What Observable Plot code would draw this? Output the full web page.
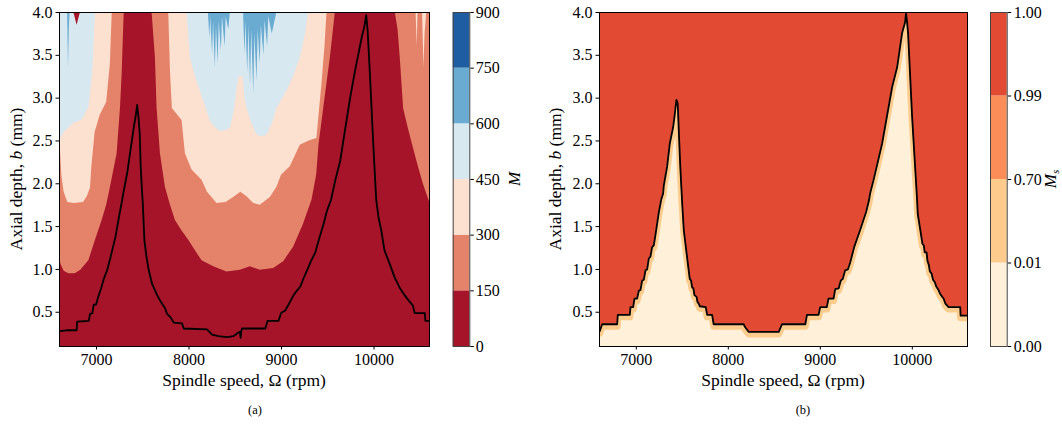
<!DOCTYPE html>
<html><head><meta charset="utf-8">
<script src="https://cdn.jsdelivr.net/npm/d3@7"></script>
<script src="https://cdn.jsdelivr.net/npm/@observablehq/plot@0.6"></script>
<style>
body{margin:0;background:#fff;}
#wrap{position:relative;width:1062px;height:430px;overflow:hidden;font-family:"Liberation Serif",serif;}
#wrap svg{position:absolute;overflow:visible;}
#wrap svg, #wrap svg text, #wrap svg tspan{font-family:"Liberation Serif",serif !important;}
</style></head><body><div id="wrap"></div>
<script>
// ---------- axes ----------
const rpmDomain = [6600, 10600];
const depthDomain = [0.1, 4.0];
const rpmTicks = [7000, 8000, 9000, 10000];
const depthTicks = [0.5, 1.0, 1.5, 2.0, 2.5, 3.0, 3.5, 4.0];

// ---------- panel (a): contour band edges [rpm, depth]; band fills from edge up to 4.0 ----------
const mLevels = [0, 150, 300, 450, 600, 750, 900];
const mColors = ["#a51429", "#e48369", "#fce0d0", "#d7e8f1", "#69abd1", "#1e5da1"];

const edge150 = [[6600,1.12],[6620,1.05],[6650,0.98],[6700,0.95],[6770,0.95],[6830,0.99],[6917,1.10],[6989,1.34],[7061,1.57],[7110,1.75],[7151,1.96],[7223,2.35],[7259,2.88],[7277,3.27],[7290,3.7],[7300,4.0],
 [7601,4.0],[7637,3.47],[7655,2.88],[7691,2.35],[7745,1.96],[7800,1.75],[7853,1.57],[7925,1.45],[7997,1.34],[8080,1.2],[8141,1.10],[8267,1.03],[8411,0.97],[8555,0.99],[8663,1.03],[8771,0.99],[8915,1.01],[9023,1.09],[9131,1.26],[9239,1.53],[9330,1.81],[9380,2.1],[9405,2.45],[9456,2.88],[9528,3.47],[9582,4.0],
 [10230,4.0],[10260,3.8],[10284,3.47],[10320,2.88],[10370,2.65],[10428,2.41],[10480,2.2],[10536,1.99],[10600,1.79]];

const edge300Left = [[6600,2.6],[6625,2.1],[6650,1.9],[6690,1.78],[6760,1.77],[6860,1.78],[6900,1.85],[6935,1.95],[6950,2.2],[6985,2.6],[7040,2.8],[7110,2.95],[7150,3.4],[7170,4.0]];
const edge300Mid = [[7781,4.0],[7800,3.3],[7820,2.88],[7925,2.74],[7961,2.35],[8033,2.16],[8141,2.04],[8200,1.9],[8303,1.77],[8400,1.78],[8483,1.84],[8560,1.9],[8627,1.85],[8700,1.77],[8771,1.75],[8879,1.84],[8951,1.96],[9000,2.1],[9095,2.2],[9203,2.45],[9300,2.5],[9383,2.53],[9440,3.2],[9470,3.6],[9492,4.0]];
const edge300Right = [[10455,4.0],[10468,3.6],[10476,4.0],[10525,4.0],[10540,3.35],[10552,3.75],[10570,4.0]];

const edge450Left = [[6600,2.5],[6650,2.6],[6750,2.7],[6850,2.75],[6920,2.9],[6960,3.3],[6980,3.8],[6990,4.0]];
const edge450Mid = [[7979,4.0],[8015,3.47],[8070,3.25],[8123,3.08],[8180,2.9],[8231,2.73],[8290,2.65],[8339,2.61],[8400,2.62],[8447,2.65],[8490,2.85],[8520,3.1],[8540,3.25],[8585,3.25],[8605,3.0],[8627,2.88],[8680,2.7],[8735,2.57],[8790,2.55],[8843,2.57],[8900,2.7],[8951,2.88],[9059,3.08],[9130,3.25],[9203,3.47],[9260,3.75],[9293,4.0]];

const edge600Left = [[6688,4.0],[6697,3.35],[6706,3.8],[6714,4.0]];
const edge600Mid1 = [[8210,4.0],[8225,3.7],[8235,3.95],[8255,3.5],[8265,3.9],[8285,3.35],[8297,3.85],[8315,3.4],[8327,3.9],[8350,3.55],[8362,3.95],[8390,3.6],[8402,3.95],[8430,3.8],[8447,4.0]];
const edge600Mid2 = [[8590,4.0],[8605,3.5],[8615,3.9],[8635,3.3],[8648,3.85],[8665,3.15],[8678,3.8],[8700,3.05],[8712,3.75],[8735,3.2],[8748,3.8],[8770,3.4],[8782,3.85],[8810,3.5],[8822,3.9],[8850,3.6],[8862,3.95],[8900,3.75],[8950,4.0]];
const spotLow = [[6755,4.0],[6790,3.85],[6827,4.0]];

// stability boundary, panel (a)
const lobesA = [[6603,0.28],[6700,0.29],[6785,0.29],[6791,0.39],[6917,0.40],[6930,0.48],[6955,0.49],[6970,0.59],[6995,0.59],[7025,0.70],[7050,0.78],[7079,0.89],[7115,0.99],[7151,1.14],[7205,1.38],[7251,1.66],[7277,1.81],[7295,1.92],[7331,2.12],[7367,2.39],[7403,2.66],[7425,2.80],[7439,2.92],[7452,2.80],[7467,2.59],[7478,2.2],[7490,1.95],[7500,1.78],[7518,1.34],[7540,1.15],[7565,0.99],[7601,0.83],[7630,0.76],[7655,0.70],[7680,0.65],[7709,0.60],[7740,0.55],[7763,0.48],[7800,0.44],[7835,0.38],[7925,0.37],[7943,0.31],[8195,0.30],[8249,0.24],[8320,0.22],[8411,0.21],[8480,0.22],[8530,0.26],[8550,0.27],[8558,0.20],[8565,0.28],[8574,0.31],[8825,0.31],[8850,0.40],[8969,0.40],[8995,0.49],[9040,0.52],[9077,0.59],[9131,0.70],[9165,0.75],[9203,0.80],[9240,0.90],[9276,0.99],[9320,1.10],[9366,1.20],[9410,1.37],[9455,1.53],[9490,1.68],[9535,1.81],[9581,2.04],[9635,2.27],[9690,2.65],[9743,3.01],[9797,3.33],[9869,3.72],[9895,3.83],[9916,3.97],[9931,3.79],[9955,3.30],[9978,2.78],[10000,2.30],[10024,1.81],[10050,1.60],[10078,1.46],[10114,1.22],[10168,1.07],[10222,0.91],[10276,0.79],[10330,0.70],[10380,0.63],[10420,0.58],[10440,0.49],[10550,0.49],[10555,0.40],[10600,0.40]];

// ---------- panel (b) ----------
const msLevels = [0.00, 0.01, 0.70, 0.99, 1.00];
const msColors = ["#fef0d9", "#fdcb8b", "#fb8d59", "#e34a33"];
const lobesB = [[6603,0.28],[6629,0.36],[6792,0.36],[6799,0.47],[6929,0.47],[6937,0.56],[6966,0.56],[6980,0.66],[7009,0.66],[7027,0.75],[7045,0.76],[7064,0.87],[7082,0.88],[7100,0.99],[7118,1.0],[7136,1.13],[7154,1.15],[7172,1.26],[7190,1.28],[7208,1.40],[7244,1.66],[7270,1.81],[7292,1.89],[7299,1.98],[7335,2.20],[7364,2.47],[7400,2.66],[7415,2.78],[7436,2.98],[7450,2.94],[7463,2.59],[7478,2.20],[7490,1.95],[7500,1.75],[7516,1.46],[7552,1.14],[7568,1.0],[7581,0.89],[7595,0.87],[7607,0.79],[7620,0.78],[7632,0.70],[7655,0.68],[7665,0.62],[7679,0.60],[7690,0.57],[7755,0.56],[7770,0.47],[7824,0.47],[7841,0.36],[8167,0.36],[8180,0.33],[8222,0.27],[8548,0.27],[8584,0.36],[8837,0.36],[8855,0.47],[8981,0.47],[8999,0.56],[9071,0.56],[9089,0.66],[9144,0.66],[9162,0.77],[9200,0.78],[9223,0.87],[9245,0.89],[9270,0.99],[9300,1.0],[9325,1.08],[9368,1.26],[9433,1.46],[9498,1.67],[9530,1.81],[9542,1.89],[9578,2.04],[9672,2.47],[9781,3.13],[9835,3.36],[9889,3.76],[9920,3.88],[9932,3.99],[9942,3.9],[9954,3.76],[9998,2.78],[10052,1.81],[10059,1.65],[10110,1.30],[10125,1.28],[10135,1.20],[10155,1.20],[10165,1.10],[10180,1.05],[10190,0.98],[10210,0.95],[10225,0.88],[10245,0.85],[10260,0.80],[10285,0.76],[10300,0.72],[10325,0.68],[10340,0.66],[10360,0.60],[10394,0.56],[10521,0.56],[10525,0.46],[10600,0.46]];

// ---------- rendering ----------
const FONT = '"Liberation Serif", serif';
const wrap = document.getElementById("wrap");
const X = d => d[0], Y = d => d[1];
const TOP = depthDomain[1], BOT = depthDomain[0];

function put(svg, left, top) {
  svg.style.left = left + "px";
  svg.style.top = top + "px";
  svg.setAttribute("font-family", FONT);
  wrap.appendChild(svg);
}
const style = {fontFamily: FONT, fontSize: "16px", background: "transparent", overflow: "visible", color: "black"};

function panel(marks, mr) {
  return Plot.plot({
    width: 440, height: 380, marginLeft: 59, marginRight: mr, marginTop: 12, marginBottom: 34,
    x: {domain: rpmDomain, ticks: rpmTicks, tickFormat: d => String(d), tickSize: 3.5, tickPadding: 4, label: null},
    y: {domain: depthDomain, ticks: depthTicks, tickFormat: d3.format(".1f"), tickSize: 3.5, tickPadding: 3.5, label: null},
    style, marks
  });
}
const band = (data, fill) => Plot.areaY(data, {x: X, y1: Y, y2: TOP, fill, clip: true});

const svgA = panel([
  Plot.frame({fill: mColors[0]}),
  band(edge150, mColors[1]),
  band(edge300Left, mColors[2]), band(edge300Mid, mColors[2]), band(edge300Right, mColors[2]),
  band(edge450Left, mColors[3]), band(edge450Mid, mColors[3]),
  band(edge600Left, mColors[4]), band(edge600Mid1, mColors[4]), band(edge600Mid2, mColors[4]),
  band(spotLow, mColors[0]),
  Plot.line(lobesA, {x: X, y: Y, stroke: "black", strokeWidth: 1.8, clip: true}),
  Plot.frame({stroke: "black", strokeWidth: 1})
], 11);
put(svgA, 0, 0);

const svgB = panel([
  Plot.areaY(lobesB, {x: X, y1: BOT, y2: Y, fill: msColors[0], clip: true}),
  Plot.line(lobesB, {x: X, y: Y, stroke: msColors[1], strokeWidth: 7, dy: 2, strokeLinejoin: "round", clip: true}),
  Plot.areaY(lobesB, {x: X, y1: Y, y2: TOP, fill: msColors[3], clip: true}),
  Plot.line(lobesB, {x: X, y: Y, stroke: "black", strokeWidth: 1.8, clip: true}),
  Plot.frame({stroke: "black", strokeWidth: 1})
], 13);
put(svgB, 540, 0);

// colorbar (a)
const cbA = mColors.map((c, i) => ({lo: mLevels[i], hi: mLevels[i + 1], c}));
const svgCA = Plot.plot({
  width: 100, height: 380, marginLeft: 12.7, marginRight: 70.7, marginTop: 12, marginBottom: 34,
  x: {domain: [0, 1], axis: null},
  y: {domain: [mLevels[0], mLevels[mLevels.length - 1]], ticks: mLevels, tickFormat: d => String(d), axis: "right", tickSize: 3.5, tickPadding: 2.5, label: null},
  color: {type: "identity"},
  style,
  marks: [
    Plot.rect(cbA, {x1: 0, x2: 1, y1: "lo", y2: "hi", fill: "c"}),
    Plot.frame({stroke: "#444", strokeWidth: 1})
  ]
});
put(svgCA, 440, 0);

// colorbar (b): evenly spaced bands for uneven levels
const cbB = msColors.map((c, i) => ({lo: i, hi: i + 1, c}));
const svgCB = Plot.plot({
  width: 82, height: 380, marginLeft: 10, marginRight: 55.3, marginTop: 12, marginBottom: 34,
  x: {domain: [0, 1], axis: null},
  y: {domain: [0, msLevels.length - 1], ticks: d3.range(msLevels.length), tickFormat: i => d3.format(".2f")(msLevels[i]), axis: "right", tickSize: 3.5, tickPadding: 3, label: null},
  color: {type: "identity"},
  style,
  marks: [
    Plot.rect(cbB, {x1: 0, x2: 1, y1: "lo", y2: "hi", fill: "c"}),
    Plot.frame({stroke: "#444", strokeWidth: 1})
  ]
});
put(svgCB, 980, 0);

// ---------- labels ----------
const ov = d3.create("svg").attr("width", 1062).attr("height", 430)
  .style("pointer-events", "none");

function yLabel(x) {
  const t = ov.append("text").attr("transform", `translate(${x},179) rotate(-90)`)
    .attr("text-anchor", "middle").attr("font-size", 17.5).attr("fill", "black");
  t.append("tspan").text("Axial depth, ");
  t.append("tspan").attr("font-style", "italic").text("b");
  t.append("tspan").text(" (mm)");
}
function xLabel(cx) {
  ov.append("text").attr("x", cx).attr("y", 386).attr("text-anchor", "middle")
    .attr("font-size", 17.5).attr("fill", "black").text("Spindle speed, Ω (rpm)");
}
yLabel(22); yLabel(561);
xLabel(244); xLabel(783);

ov.append("text").attr("transform", "translate(520,179) rotate(-90)")
  .attr("text-anchor", "middle").attr("font-size", 17).attr("font-style", "italic").text("M");
const mB = ov.append("text").attr("transform", "translate(1056,179) rotate(-90)")
  .attr("text-anchor", "middle").attr("font-size", 17).attr("font-style", "italic");
mB.append("tspan").text("M");
mB.append("tspan").attr("font-size", 11).attr("dy", 2.5).text("s");

ov.append("text").attr("x", 255).attr("y", 414).attr("text-anchor", "middle").attr("font-size", 12.5).text("(a)");
ov.append("text").attr("x", 803).attr("y", 414).attr("text-anchor", "middle").attr("font-size", 12.5).text("(b)");
put(ov.node(), 0, 0);
</script></body></html>
